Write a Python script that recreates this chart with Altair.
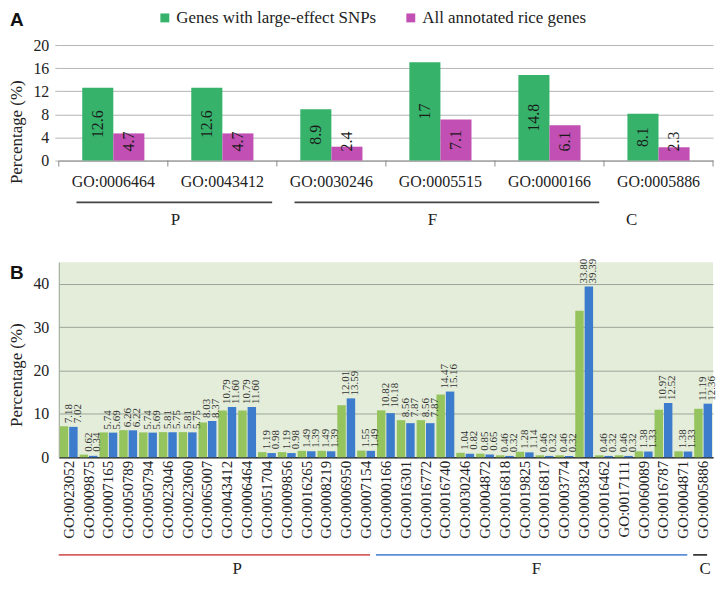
import altair as alt
import pandas as pd

SERIF = "Liberation Serif"
SANS = "Liberation Sans"

# ---------------- Panel A data ----------------
cats_a = ["GO:0006464", "GO:0043412", "GO:0030246", "GO:0005515", "GO:0000166", "GO:0005886"]
groups_a = ["P", "P", "F", "F", "F", "C"]
snp_a = [12.6, 12.6, 8.9, 17, 14.8, 8.1]
all_a = [4.7, 4.7, 2.4, 7.1, 6.1, 2.3]
series_a = ["Genes with large-effect SNPs", "All annotated rice genes"]
ticks_a = [0, 4, 8, 12, 16, 20]
lined_groups_a = ["P", "F"]

# ---------------- Panel B data ----------------
cats_b = [
    "GO:0023052", "GO:0009875", "GO:0007165", "GO:0050789", "GO:0050794", "GO:0023046",
    "GO:0023060", "GO:0065007", "GO:0043412", "GO:0006464", "GO:0051704", "GO:0009856",
    "GO:0016265", "GO:0008219", "GO:0006950", "GO:0007154",
    "GO:0000166", "GO:0016301", "GO:0016772", "GO:0016740", "GO:0030246", "GO:0004872",
    "GO:0016818", "GO:0019825", "GO:0016817", "GO:0003774", "GO:0003824", "GO:0016462",
    "GO:0017111", "GO:0060089", "GO:0016787", "GO:0004871",
    "GO:0005886",
]
groups_b = ["P"] * 16 + ["F"] * 16 + ["C"]
snp_b = [7.18, 0.62, 5.74, 6.26, 5.74, 5.81, 5.81, 8.03, 10.79, 10.79, 1.19, 1.19, 1.49, 1.49, 12.01, 1.55,
         10.82, 8.56, 8.56, 14.47, 1.04, 0.85, 0.46, 1.28, 0.46, 0.46, 33.80, 0.46, 0.46, 1.38, 10.97, 1.38,
         11.19]
all_b = [7.02, 0.34, 5.69, 6.22, 5.69, 5.75, 5.75, 8.37, 11.60, 11.60, 0.98, 0.98, 1.39, 1.39, 13.59, 1.49,
         10.18, 7.87, 7.87, 15.16, 0.82, 0.65, 0.32, 1.14, 0.32, 0.32, 39.39, 0.32, 0.32, 1.33, 12.52, 1.33,
         12.36]
series_b = ["Genes with large-effect SNPs", "All annotated rice genes"]
ticks_b = [0, 10, 20, 30, 40]
lined_groups_b = ["P", "F", "C"]

# ---------------- styles ----------------
GREEN_A, MAG_A = "#36b26b", "#c24fb3"
GREEN_B, BLUE_B = "#95c45e", "#3d7ccc"
BG_B = "#e3edd9"
TXT = "#222222"
WA, HA = 657, 116
WB, HB = 657, 196
# (member index used as anchor, dx) for the group names
label_style_a = {"P": (1, -47), "F": (1, -8), "C": (0, -27)}
label_style_b = {"P": (8, 10), "F": (8, -8), "C": (0, 2)}
line_color_b = {"P": "#d35f5f", "F": "#5b8ed6", "C": "#222222"}


def spans(cats, groups, keep):
    rows = []
    for g in keep:
        members = [c for c, gg in zip(cats, groups) if gg == g]
        rows.append({"group": g, "first": members[0], "last": members[-1]})
    return pd.DataFrame(rows)


# ================= Panel A =================
dfa = pd.DataFrame({
    "cat": cats_a * 2,
    "series": [series_a[0]] * len(cats_a) + [series_a[1]] * len(cats_a),
    "value": snp_a + all_a,
    "first_series": [1] * len(cats_a) + [0] * len(cats_a),
})
dfa["label"] = [f"{v:g}" for v in dfa["value"]]

xa_scale = alt.Scale(domain=cats_a, paddingInner=0.43, paddingOuter=0.215)
xa_axis = alt.Axis(title=None, labelAngle=0, labelFont=SERIF, labelFontSize=16, labelColor=TXT,
                   ticks=False, labelPadding=13, domainColor="#8a8a8a", grid=False)


def xa(field):
    return alt.X(f"{field}:N", scale=xa_scale, axis=xa_axis)


def ya(field):
    return alt.Y(f"{field}:Q", scale=alt.Scale(domain=[0, 20], nice=False),
                 axis=alt.Axis(values=ticks_a, title="Percentage (%)", titleFont=SERIF, titleFontSize=17,
                               titleFontWeight="normal", titleColor=TXT, titleY=87, titlePadding=7,
                               labelFont=SERIF, labelFontSize=16, labelColor=TXT, labelPadding=6,
                               grid=True, gridColor="#b4b4b4", domain=False, tickColor="#b4b4b4", tickSize=4))


xoff_a = alt.XOffset("series:N", scale=alt.Scale(domain=series_a, paddingInner=0.0))
color_a = alt.Color("series:N", scale=alt.Scale(domain=series_a, range=[GREEN_A, MAG_A]),
                    legend=alt.Legend(title=None, orient="none", legendX=98, legendY=-36,
                                      direction="horizontal", symbolType="square", symbolSize=80,
                                      labelFont=SERIF, labelFontSize=17, labelColor=TXT, labelLimit=400,
                                      columnPadding=26, symbolStrokeWidth=0, labelOffset=3))

bars_a = alt.Chart(dfa).mark_bar().encode(x=xa("cat"), xOffset=xoff_a, y=ya("value"), color=color_a)

text_a = alt.Chart(dfa).transform_calculate(
    ypos="datum.first_series == 1 ? datum.value / 2 : max(datum.value / 2, 3.3)"
).mark_text(angle=270, font=SERIF, fontSize=16, color="#1a1a1a", align="center", baseline="middle").encode(
    x=xa("cat"), xOffset=xoff_a, y=ya("ypos"), text="label:N")

step_a = WA / len(cats_a)
ticks_x_a = alt.Chart(pd.DataFrame({"cat": cats_a})).mark_rule(
    color="#8a8a8a", xOffset=-step_a / 2).encode(x=xa("cat"), y=alt.value(HA), y2=alt.value(HA + 6))
end_tick_a = alt.Chart(pd.DataFrame({"cat": cats_a[-1:]})).mark_rule(
    color="#8a8a8a", xOffset=step_a / 2).encode(x=xa("cat"), y=alt.value(HA), y2=alt.value(HA + 6))

rules_a = alt.Chart(spans(cats_a, groups_a, lined_groups_a)).mark_rule(
    color="#444444", strokeWidth=1.6, xOffset=-37, x2Offset=50).encode(
    x=xa("first"), x2=alt.X2("last"), y=alt.value(HA + 42))

labels_a = []
for g, (idx, dx) in label_style_a.items():
    members = [c for c, gg in zip(cats_a, groups_a) if gg == g]
    labels_a.append(
        alt.Chart(pd.DataFrame({"anchor": [members[idx]], "name": [g]})).mark_text(
            dx=dx, font=SERIF, fontSize=17, color=TXT, baseline="middle").encode(
            x=xa("anchor"), y=alt.value(HA + 60), text="name:N"))

letter_a = alt.Chart(pd.DataFrame({"t": ["A"]})).mark_text(
    font=SANS, fontWeight="bold", fontSize=19, align="left", baseline="top", color="#111111").encode(
    x=alt.value(-49), y=alt.value(-34), text="t:N")

chart_a = alt.layer(bars_a, text_a, ticks_x_a, end_tick_a, rules_a, *labels_a, letter_a).properties(
    width=WA, height=HA)

# ================= Panel B =================
dfb = pd.DataFrame({
    "cat": cats_b * 2,
    "series": [series_b[0]] * len(cats_b) + [series_b[1]] * len(cats_b),
    "value": snp_b + all_b,
})
dfb_lbl = pd.DataFrame({
    "cat": cats_b,
    "top": [max(a, b) for a, b in zip(snp_b, all_b)],
    "label": [f"{a:.2f}\n{b:.2f}" for a, b in zip(snp_b, all_b)],
})

xb_scale = alt.Scale(domain=cats_b, paddingInner=0.1, paddingOuter=0.05)
xb_axis = alt.Axis(title=None, labelAngle=270, labelFont=SERIF, labelFontSize=15, labelColor=TXT,
                   ticks=False, labelPadding=3, domainColor="#333333", domainWidth=1.5, grid=False)


def xb(field):
    return alt.X(f"{field}:N", scale=xb_scale, axis=xb_axis)


def yb(field):
    return alt.Y(f"{field}:Q", scale=alt.Scale(domain=[0, 45], nice=False),
                 axis=alt.Axis(values=ticks_b, title="Percentage (%)", titleFont=SERIF, titleFontSize=17,
                               titleFontWeight="normal", titleColor=TXT, titleY=113, titlePadding=7,
                               labelFont=SERIF, labelFontSize=16, labelColor=TXT, labelPadding=10,
                               grid=True, gridColor="#9da59a", domain=True, domainColor="#9da59a",
                               ticks=False))


xoff_b = alt.XOffset("series:N", scale=alt.Scale(domain=series_b, paddingInner=0.1))
color_b = alt.Color("series:N", scale=alt.Scale(domain=series_b, range=[GREEN_B, BLUE_B]), legend=None)

bars_b = alt.Chart(dfb).mark_bar().encode(x=xb("cat"), xOffset=xoff_b, y=yb("value"), color=color_b)

text_b = alt.Chart(dfb_lbl).mark_text(
    angle=270, align="left", baseline="middle", dx=3, lineBreak="\n", lineHeight=9,
    font=SERIF, fontSize=11, color="#333333").encode(x=xb("cat"), y=yb("top"), text="label:N")

spans_b = spans(cats_b, groups_b, lined_groups_b)
rules_b = []
for g in lined_groups_b:
    rules_b.append(
        alt.Chart(spans_b[spans_b["group"] == g]).mark_rule(
            color=line_color_b[g], strokeWidth=1.6, xOffset=-10, x2Offset=4).encode(
            x=xb("first"), x2=alt.X2("last"), y=alt.value(HB + 98)))

labels_b = []
for g, (idx, dx) in label_style_b.items():
    members = [c for c, gg in zip(cats_b, groups_b) if gg == g]
    labels_b.append(
        alt.Chart(pd.DataFrame({"anchor": [members[idx]], "name": [g]})).mark_text(
            dx=dx, font=SERIF, fontSize=17, color=TXT, baseline="alphabetic").encode(
            x=xb("anchor"), y=alt.value(HB + 117), text="name:N"))

letter_b = alt.Chart(pd.DataFrame({"t": ["B"]})).mark_text(
    font=SANS, fontWeight="bold", fontSize=19, align="left", baseline="top", color="#111111").encode(
    x=alt.value(-49), y=alt.value(2), text="t:N")

chart_b = alt.layer(bars_b, text_b, *rules_b, *labels_b, letter_b).properties(
    width=WB, height=HB, view=alt.ViewBackground(fill=BG_B, stroke=None))

chart = (
    alt.vconcat(chart_a, chart_b, spacing=102, bounds="flush")
    .resolve_scale(color="independent", xOffset="independent")
    .properties(padding=0)
    .configure(font=SERIF)
    .configure_view(stroke=None)
    .configure_axis(labelFont=SERIF, titleFont=SERIF)
    .configure_legend(labelFont=SERIF, titleFont=SERIF)
)

chart.save("out.html", embed_options={"renderer": "svg", "actions": False})
